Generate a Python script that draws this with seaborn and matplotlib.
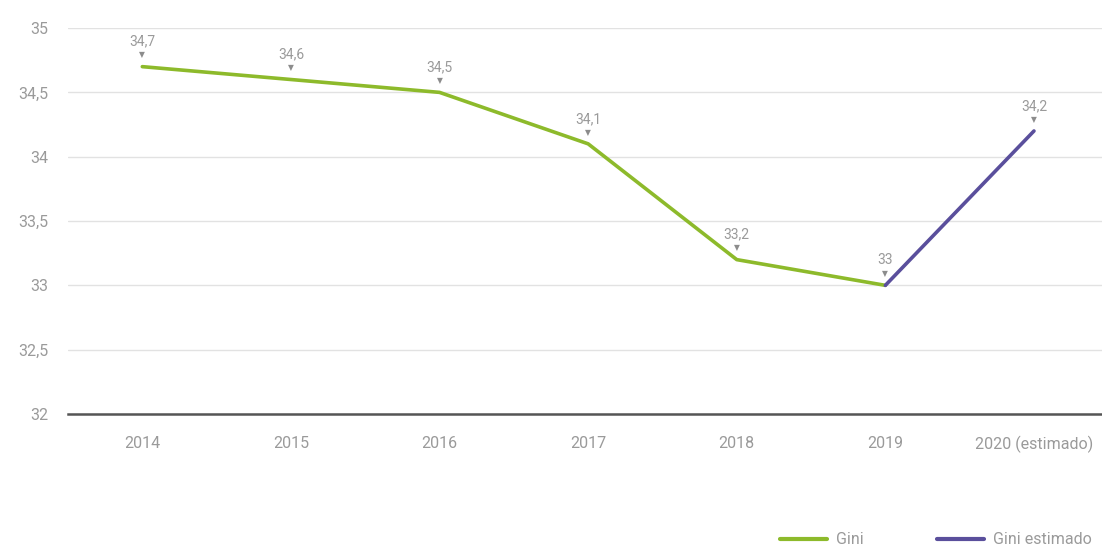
import matplotlib
matplotlib.use("Agg")
import matplotlib.pyplot as plt
import seaborn as sns
import pandas as pd
from matplotlib.lines import Line2D

years = ["2014", "2015", "2016", "2017", "2018", "2019", "2020 (estimado)"]
gini = [34.7, 34.6, 34.5, 34.1, 33.2, 33.0]
gini_estimado = [33.0, 34.2]
yticks = [32, 32.5, 33, 33.5, 34, 34.5, 35]

green = "#8dba2b"
purple = "#5a4f9c"
grey_text = "#9a9a9a"

sns.set_theme(style="white")
plt.rcParams["font.family"] = ["Roboto", "DejaVu Sans"]

df_real = pd.DataFrame({"pos": range(len(gini)), "valor": gini})
df_est = pd.DataFrame({"pos": [len(gini) - 1, len(gini)], "valor": gini_estimado})

fig = plt.figure(figsize=(11.02, 5.49), dpi=100)
ax = fig.add_axes([0.0617, 0.2459, 0.944, 0.703])

sns.lineplot(data=df_real, x="pos", y="valor", color=green, linewidth=2.6, ax=ax)
sns.lineplot(data=df_est, x="pos", y="valor", color=purple, linewidth=2.6, ax=ax)

# value labels with a small pointer above each point
points = list(zip(range(len(gini)), gini)) + [(len(gini), gini_estimado[-1])]
for x, v in points:
    ax.annotate("▼", (x, v), xytext=(0, 8.5), textcoords="offset points",
                ha="center", va="center", fontsize=5.5, color="#8c8c8c",
                family=["DejaVu Sans"])
    txt = f"{v:g}".replace(".", ",")
    ax.annotate(txt, (x, v), xytext=(0, 18), textcoords="offset points",
                ha="center", va="center", fontsize=10, color=grey_text)

ax.set_xlim(-0.5, len(years) - 0.5)
ax.set_ylim(32, 35)
ax.set_xticks(range(len(years)))
ax.set_xticklabels(years)
ax.set_yticks(yticks)
ax.set_yticklabels([f"{t:g}".replace(".", ",") for t in yticks])
ax.set_xlabel("")
ax.set_ylabel("")

ax.grid(axis="y", color="#e2e2e2", linewidth=1)
ax.grid(axis="x", visible=False)
for side in ["top", "right", "left"]:
    ax.spines[side].set_visible(False)
ax.spines["bottom"].set_color("#555555")
ax.spines["bottom"].set_linewidth(1.8)
ax.tick_params(axis="both", length=0, labelsize=11.5, labelcolor=grey_text)
ax.tick_params(axis="y", pad=14)
ax.tick_params(axis="x", pad=16)

handles = [Line2D([0], [0], color=green, linewidth=3),
           Line2D([0], [0], color=purple, linewidth=3)]
fig.legend(handles, ["Gini", "Gini estimado"], loc="center left",
           bbox_to_anchor=(0.695, 0.017), ncol=2, frameon=False,
           fontsize=11.5, labelcolor=grey_text, handlelength=2.9,
           columnspacing=4.6, handletextpad=0.6)

fig.savefig("out.png", dpi=100)
